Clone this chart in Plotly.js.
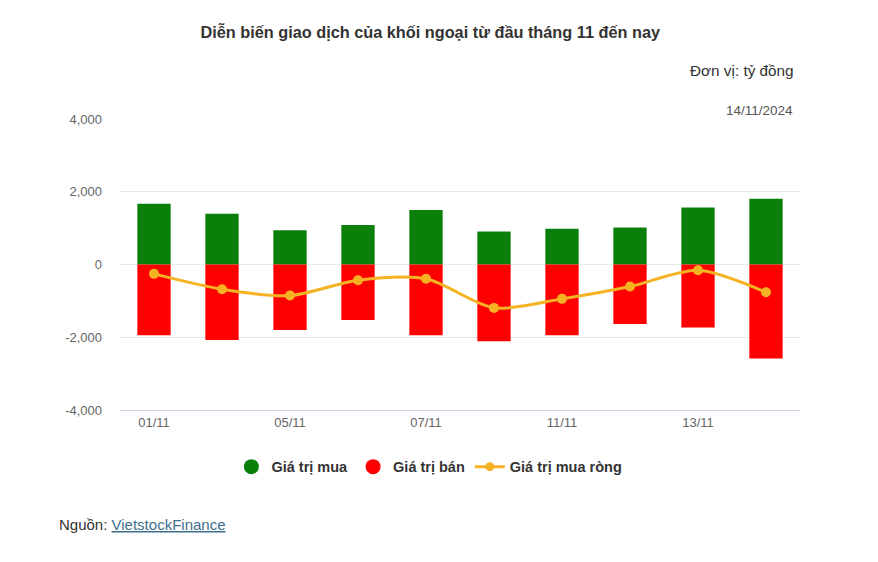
<!DOCTYPE html>
<html>
<head>
<meta charset="utf-8">
<script src="https://cdn.plot.ly/plotly-3.0.1.min.js"></script>
<style>html,body{margin:0;padding:0;background:#fff;}#chart{width:878px;height:562px;}</style>
</head>
<body>
<div id="chart"></div>
<script>
const categories = ["01/11","04/11","05/11","06/11","07/11","08/11","11/11","12/11","13/11","14/11"];
const buyValues = [1670, 1394, 945, 1083, 1495, 908, 982, 1018, 1569, 1807];
const sellValues = [-1945, -2073, -1798, -1523, -1945, -2110, -1945, -1633, -1734, -2587];
const netValues = [-257, -679, -853, -431, -394, -1193, -945, -606, -156, -761];
const xTickVals = ["01/11","05/11","07/11","11/11","13/11"];
const yTickVals = [-4000, -2000, 0, 2000, 4000];
const yTickText = ["-4,000", "-2,000", "0", "2,000", "4,000"];
const seriesNames = ["Giá trị mua", "Giá trị bán", "Giá trị mua ròng"];

const GREEN = "#0a800a", RED = "#ff0000", ORANGE = "#f5b323";
const FONT = "Liberation Sans, Arial, sans-serif";

const traces = [
  {type: "bar", x: categories, y: buyValues, marker: {color: GREEN, line: {width: 0}}, showlegend: false, name: seriesNames[0], hoverinfo: "skip"},
  {type: "bar", x: categories, y: sellValues, marker: {color: RED, line: {width: 0}}, showlegend: false, name: seriesNames[1], hoverinfo: "skip"},
  {type: "scatter", mode: "lines+markers", x: categories, y: netValues, name: seriesNames[2], showlegend: false,
   line: {color: ORANGE, width: 3, shape: "spline", smoothing: 0.8}, marker: {color: ORANGE, size: 10}, hoverinfo: "skip"},
  {type: "scatter", mode: "markers", x: [null], y: [null], name: "<b>" + seriesNames[0] + "</b>", marker: {color: GREEN, size: 15, symbol: "circle"}},
  {type: "scatter", mode: "markers", x: [null], y: [null], name: "<b>" + seriesNames[1] + "</b>", marker: {color: RED, size: 15, symbol: "circle"}},
  {type: "scatter", mode: "lines+markers", x: [null], y: [null], name: "<b>" + seriesNames[2] + "</b>", line: {color: ORANGE, width: 3}, marker: {color: ORANGE, size: 9}}
];

const layout = {
  width: 878, height: 562,
  paper_bgcolor: "#fff", plot_bgcolor: "#fff",
  margin: {l: 120, r: 78, t: 119, b: 152},
  font: {family: FONT, color: "#333"},
  barmode: "relative", bargap: 0.51,
  title: {text: "<b>Diễn biến giao dịch của khối ngoại từ đầu tháng 11 đến nay</b>", x: 0.49, xanchor: "center", y: 0.943, yanchor: "middle", font: {size: 16.3, color: "#333", family: FONT}},
  xaxis: {type: "category", categoryorder: "array", categoryarray: categories, tickvals: xTickVals, ticktext: xTickVals,
          showgrid: false, showline: true, linecolor: "#ccd6eb", linewidth: 1, ticks: "", tickfont: {size: 13, color: "#666"},
          zeroline: false, fixedrange: true, range: [-0.5, 9.5]},
  yaxis: {range: [-4000, 4000], tickvals: yTickVals, ticktext: yTickText, showgrid: true, gridcolor: "#e6e6e6", gridwidth: 1,
          zeroline: false, showline: false, ticks: "", tickfont: {size: 13, color: "#666"}, ticklabelstandoff: 17, fixedrange: true},
  legend: {orientation: "h", x: 0.455, xanchor: "center", y: -0.14, yanchor: "top", font: {size: 14.5, color: "#333", family: FONT}, itemclick: false, itemdoubleclick: false},
  annotations: [
    {text: "Đơn vị: tỷ đồng", xref: "paper", yref: "paper", x: 1, xanchor: "right", y: 1.165, yanchor: "middle", xshift: -4, showarrow: false, font: {size: 15.3, color: "#333", family: FONT}},
    {text: "14/11/2024", xref: "paper", yref: "paper", x: 1, xanchor: "right", y: 1.03, yanchor: "middle", xshift: -5, showarrow: false, font: {size: 13.5, color: "#555", family: FONT}},
    {text: "Nguồn: <span style='color:#3d6e8c'><u>VietstockFinance</u></span>", xref: "paper", yref: "paper", x: -0.093, xanchor: "left", y: -0.395, yanchor: "middle", showarrow: false, font: {size: 15, color: "#333", family: FONT}}
  ]
};

Plotly.newPlot("chart", traces, layout, {displayModeBar: false, staticPlot: true});
</script>
</body>
</html>
